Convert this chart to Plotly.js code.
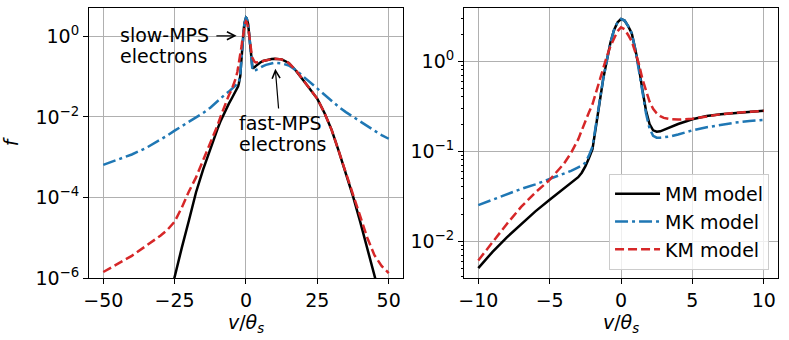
<!DOCTYPE html>
<html>
<head>
<meta charset="utf-8">
<script src="https://cdn.plot.ly/plotly-3.0.1.min.js"></script>
<style>
  html, body { margin: 0; padding: 0; background: white; }
  #chart { width: 789px; height: 340px; }
</style>
</head>
<body>
<div id="chart"></div>
<script>
// velocity grid v/theta_s (shared by both panels)
const v = [-50, -45, -40, -35, -30, -27.5, -25, -22.5, -20, -17.5, -15, -12.5,
  -10, -9, -8, -7, -6, -5, -4, -3.5, -3,
  -2.75, -2.5, -2.25, -2, -1.75, -1.5, -1.25, -1, -0.75, -0.5, -0.25, 0,
  0.25, 0.5, 0.75, 1, 1.25, 1.5, 1.75, 2, 2.25, 2.5, 2.75,
  3, 3.5, 4, 5, 6, 7, 8, 9, 10,
  12.5, 15, 17.5, 20, 22.5, 25, 27.5, 30, 32.5, 35, 37.5, 40, 42.5, 45, 47.5, 50];

// MM model (black, solid)
const fMM = [null, null, null, null, null, 2.0e-7, 1.12e-6, 5.6e-6, 2.69e-5, 1.35e-4, 5.0e-4, 1.66e-3,
  5.0e-3, 7.6e-3, 0.011, 0.0155, 0.0214, 0.0288, 0.038, 0.0437, 0.0513,
  0.0575, 0.0676, 0.0832, 0.105, 0.19, 0.355, 0.631, 1.0, 1.58, 2.19, 2.69, 2.93,
  2.82, 2.45, 2.04, 1.35, 0.851, 0.479, 0.282, 0.2, 0.17, 0.164, 0.166,
  0.172, 0.186, 0.2, 0.226, 0.245, 0.257, 0.266, 0.274, 0.28,
  0.27, 0.219, 0.141, 0.0832, 0.0479, 0.0282, 0.0126, 4.79e-3, 1.41e-3, 3.98e-4, 1.07e-4, 2.51e-5, 5.6e-6, 1.2e-6, 2.5e-7, null];

// MK model (blue, dash-dot)
const fMK = [6.46e-4, 8.5e-4, 1.17e-3, 1.70e-3, 2.69e-3, 3.47e-3, 4.57e-3, 5.89e-3, 7.41e-3, 9.55e-3, 0.0126, 0.017,
  0.0251, 0.0288, 0.0331, 0.038, 0.0427, 0.049, 0.0562, 0.0603, 0.0661,
  0.0692, 0.0741, 0.0891, 0.112, 0.19, 0.355, 0.631, 1.0, 1.58, 2.19, 2.69, 2.93,
  2.82, 2.45, 2.04, 1.35, 0.83, 0.46, 0.263, 0.178, 0.148, 0.141, 0.141,
  0.142, 0.146, 0.153, 0.17, 0.184, 0.197, 0.207, 0.216, 0.222,
  0.214, 0.19, 0.145, 0.102, 0.0741, 0.0513, 0.0355, 0.0251, 0.0178, 0.0132, 0.01, 7.59e-3, 5.89e-3, 4.57e-3, 3.55e-3, 2.88e-3];

// KM model (red, dashed)
const fKM = [1.41e-6, 2.19e-6, 3.55e-6, 6.3e-6, 1.12e-5, 1.58e-5, 2.51e-5, 5.6e-5, 1.41e-4, 3.16e-4, 8.3e-4, 2.29e-3,
  6.1e-3, 9.8e-3, 0.0155, 0.024, 0.0347, 0.0479, 0.0724, 0.0955, 0.135,
  0.17, 0.219, 0.269, 0.331, 0.447, 0.603, 0.851, 1.12, 1.45, 1.78, 2.14, 2.37,
  2.26, 1.95, 1.66, 1.26, 0.933, 0.631, 0.468, 0.355, 0.295, 0.263, 0.245,
  0.234, 0.226, 0.224, 0.229, 0.245, 0.257, 0.266, 0.274, 0.28,
  0.27, 0.219, 0.145, 0.0832, 0.0479, 0.0282, 0.0126, 4.79e-3, 1.41e-3, 4.17e-4, 1.26e-4, 3.55e-5, 1.0e-5, 3.7e-6, 2.0e-6, 1.32e-6];

const modelNames = ['MM model', 'MK model', 'KM model'];

// tick labels
const leftYTicks = [1e-6, 1e-4, 1e-2, 1];
const leftYLabels = ['10<sup>−6</sup>', '10<sup>−4</sup>', '10<sup>−2</sup>', '10<sup>0</sup>'];
const rightYTicks = [1e-2, 1e-1, 1];
const rightYLabels = ['10<sup>−2</sup>', '10<sup>−1</sup>', '10<sup>0</sup>'];
const rightYMinor = [0.004, 0.005, 0.006, 0.007, 0.008, 0.009,
  0.02, 0.03, 0.04, 0.05, 0.06, 0.07, 0.08, 0.09,
  0.2, 0.3, 0.4, 0.5, 0.6, 0.7, 0.8, 0.9, 2, 3];

const styles = [
  {color: 'black', width: 2.5, dash: 'solid'},
  {color: '#1f77b4', width: 2.5, dash: '13px,4px,3px,4px'},
  {color: '#d62728', width: 2.5, dash: '9px,4px'}
];
const series = [fMM, fMK, fKM];

// the right panel only shows the core, -10 <= v <= 10
const coreStart = v.indexOf(-10);
const coreEnd = v.indexOf(10) + 1;

const traces = [];
// left panel
series.forEach((f, i) => {
  traces.push({x: v, y: f, type: 'scatter', mode: 'lines', name: modelNames[i],
    line: styles[i], xaxis: 'x', yaxis: 'y', showlegend: false, connectgaps: false, hoverinfo: 'skip'});
});
// right panel
series.forEach((f, i) => {
  traces.push({x: v.slice(coreStart, coreEnd), y: f.slice(coreStart, coreEnd), type: 'scatter', mode: 'lines', name: modelNames[i],
    line: styles[i], xaxis: 'x2', yaxis: 'y2', showlegend: true, hoverinfo: 'skip'});
});

const axisCommon = {
  showline: true, mirror: true, linecolor: 'black', linewidth: 1,
  ticks: 'outside', ticklen: 5, tickwidth: 1, tickcolor: 'black',
  showgrid: true, gridcolor: '#b0b0b0', gridwidth: 1,
  zeroline: false, automargin: false,
  tickfont: {size: 19, color: 'black'}
};
const xTitle = {text: '<i>v</i>/<i>θ<sub>s</sub></i>', font: {size: 19}, standoff: 2};

const annFont = {size: 19, color: 'black', family: 'DejaVu Sans'};
const annotations = [
  {xref: 'x', yref: 'y', x: -45, y: 0.042, text: 'slow-MPS', showarrow: false, xanchor: 'left', yanchor: 'middle', font: annFont},
  {xref: 'x', yref: 'y', x: -45, y: -0.473, text: 'electrons', showarrow: false, xanchor: 'left', yanchor: 'middle', font: annFont},
  {xref: 'x', yref: 'y', x: -3.05, y: -2.156, text: 'fast-MPS', showarrow: false, xanchor: 'left', yanchor: 'middle', font: annFont},
  {xref: 'x', yref: 'y', x: -3.05, y: -2.67, text: 'electrons', showarrow: false, xanchor: 'left', yanchor: 'middle', font: annFont},
  // arrows
  {xref: 'x', yref: 'y', axref: 'x', ayref: 'y', x: -3.3, y: 0.017, ax: -10.9, ay: 0.017, text: '',
    showarrow: true, arrowhead: 5, arrowsize: 1.3, arrowwidth: 1.2, arrowcolor: 'black', standoff: 0, startstandoff: 0},
  {xref: 'x', yref: 'y', axref: 'x', ayref: 'y', x: 10.27, y: -0.804, ax: 11.46, ay: -1.825, text: '',
    showarrow: true, arrowhead: 5, arrowsize: 1.3, arrowwidth: 1.2, arrowcolor: 'black', standoff: 0, startstandoff: 0}
];

const layout = {
  width: 789, height: 340,
  margin: {l: 89, r: 11, t: 8, b: 62},
  paper_bgcolor: 'white', plot_bgcolor: 'white',
  font: {family: 'DejaVu Sans', size: 19, color: 'black'},
  xaxis: Object.assign({}, axisCommon, {domain: [0, 0.4557], range: [-55, 55], tickmode: 'linear', tick0: 0, dtick: 25, title: xTitle}),
  yaxis: Object.assign({}, axisCommon, {type: 'log', range: [-6, 0.707], tickmode: 'array', tickvals: leftYTicks, ticktext: leftYLabels,
    title: {text: '<i>f</i>', font: {size: 19}, standoff: 14}}),
  xaxis2: Object.assign({}, axisCommon, {domain: [0.5443, 1], anchor: 'y2', range: [-11, 11], tickmode: 'linear', tick0: 0, dtick: 5, title: xTitle}),
  yaxis2: Object.assign({}, axisCommon, {type: 'log', anchor: 'x2', range: [-2.41, 0.59], tickmode: 'array', tickvals: rightYTicks, ticktext: rightYLabels,
    minor: {tickmode: 'array', tickvals: rightYMinor, ticks: 'outside', ticklen: 2.5, tickcolor: 'black', showgrid: false}}),
  legend: {x: 0.987, y: 0.03, xanchor: 'right', yanchor: 'bottom', itemwidth: 45,
    bgcolor: 'rgba(255,255,255,0.8)', bordercolor: '#cccccc', borderwidth: 1,
    font: {size: 19, color: 'black'}},
  annotations: annotations
};

Plotly.newPlot('chart', traces, layout, {displayModeBar: false, staticPlot: true});
</script>
</body>
</html>
